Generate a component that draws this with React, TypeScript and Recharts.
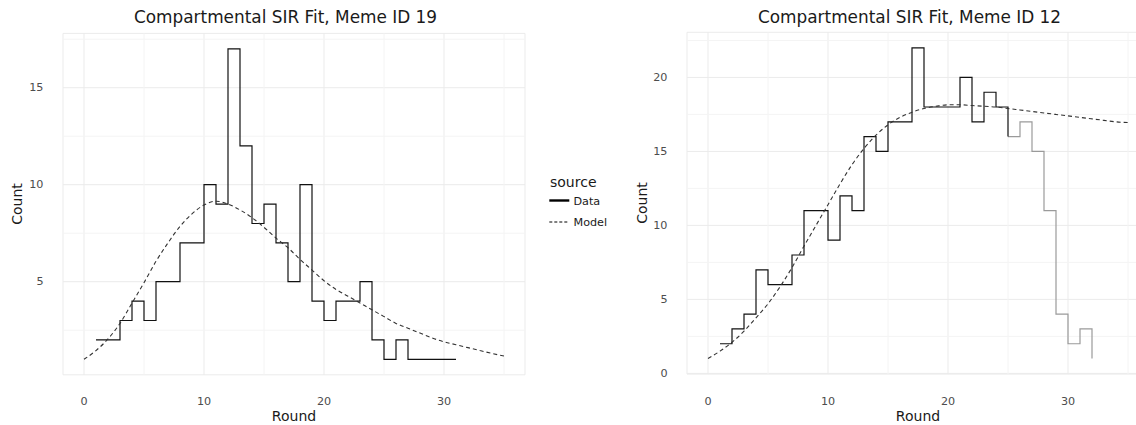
import React from "react";
import { LineChart, Line, XAxis, YAxis, CartesianGrid, ReferenceLine } from "recharts";

// ---------- data: Meme ID 19 ----------
const leftRounds = [1, 2, 3, 4, 5, 6, 7, 8, 9, 10, 11, 12, 13, 14, 15, 16, 17, 18, 19, 20, 21, 22, 23, 24, 25, 26, 27, 28, 29, 30, 31];
const leftCounts = [2, 2, 3, 4, 3, 5, 5, 7, 7, 10, 9, 17, 12, 8, 9, 7, 5, 10, 4, 3, 4, 4, 5, 2, 1, 2, 1, 1, 1, 1, 1];
const modelRounds = [0, 1, 2, 3, 4, 5, 6, 7, 8, 9, 10, 11, 12, 13, 14, 15, 16, 17, 18, 19, 20, 21, 22, 23, 24, 25, 26, 27, 28, 29, 30, 31, 32, 33, 34, 35];
const leftModel = [1.0, 1.45, 2.05, 2.85, 3.9, 4.95, 6.05, 7.0, 7.85, 8.5, 8.95, 9.15, 9.0, 8.7, 8.3, 7.8, 7.25, 6.75, 6.15, 5.6, 5.05, 4.6, 4.25, 3.9, 3.55, 3.2, 2.85, 2.6, 2.35, 2.1, 1.9, 1.75, 1.6, 1.45, 1.3, 1.17];

// ---------- data: Meme ID 12 ----------
const rightRoundsFit = [1, 2, 3, 4, 5, 6, 7, 8, 9, 10, 11, 12, 13, 14, 15, 16, 17, 18, 19, 20, 21, 22, 23, 24, 25];
const rightCountsFit = [2, 3, 4, 7, 6, 6, 8, 11, 11, 9, 12, 11, 16, 15, 17, 17, 22, 18, 18, 18, 20, 17, 19, 18, 16];
const rightRoundsRest = [25, 26, 27, 28, 29, 30, 31, 32];
const rightCountsRest = [16, 17, 15, 11, 4, 2, 3, 1];
const rightModel = [1.0, 1.5, 2.1, 2.85, 3.75, 4.7, 5.85, 7.15, 8.6, 10.0, 11.4, 12.8, 14.1, 15.2, 16.1, 16.8, 17.3, 17.65, 17.9, 18.05, 18.15, 18.15, 18.1, 18.05, 18.0, 17.9, 17.8, 17.7, 17.6, 17.5, 17.4, 17.3, 17.2, 17.1, 17.0, 16.95];

// ---------- ticks ----------
const xTicks = [0, 10, 20, 30];
const xMinor = [5, 15, 25, 35];
const leftYTicks = [5, 10, 15];
const leftYMinor = [2.5, 7.5, 12.5, 17.5];
const rightYTicks = [0, 5, 10, 15, 20];
const rightYMinor = [2.5, 7.5, 12.5, 17.5, 22.5];

const toPts = (xs: number[], ys: number[]) => xs.map((x, i) => ({ x, y: ys[i] }));

const FONT = "'DejaVu Sans', sans-serif";

const XTick = (props: any) => (
  <text x={props.x} y={404.5} textAnchor="middle" fontSize={11.2} fill="#4d4d4d" fontFamily={FONT}>
    {props.payload.value}
  </text>
);
const YTick = (props: any) => (
  <text x={43.5} y={props.y} textAnchor="end" dominantBaseline="central" fontSize={11.2} fill="#4d4d4d" fontFamily={FONT}>
    {props.payload.value}
  </text>
);

type PanelProps = {
  left: number;
  top: number;
  xAxisH: number;
  yDomain: [number, number];
  yTicks: number[];
  yMinor: number[];
  series: { pts: { x: number; y: number }[]; color: string; dash?: string; type: any; width: number }[];
};

function Panel({ left, top, xAxisH, yDomain, yTicks, yMinor, series }: PanelProps) {
  return (
    <div style={{ position: "absolute", left, top: 0 }}>
      <LineChart width={560} height={425} margin={{ top, right: 35, bottom: 0, left: 0 }}>
        <CartesianGrid stroke="#ebebeb" strokeWidth={1} />
        {xMinor.map((v) => (
          <ReferenceLine key={"xm" + v} x={v} stroke="#f4f4f4" strokeWidth={1} />
        ))}
        {yMinor.map((v) => (
          <ReferenceLine key={"ym" + v} y={v} stroke="#f4f4f4" strokeWidth={1} />
        ))}
        <XAxis
          dataKey="x"
          type="number"
          domain={[-1.75, 36.75]}
          ticks={xTicks}
          axisLine={false}
          tickLine={false}
          height={xAxisH}
          tick={<XTick />}
          allowDataOverflow
        />
        <YAxis
          type="number"
          domain={yDomain}
          ticks={yTicks}
          axisLine={false}
          tickLine={false}
          width={63}
          tick={<YTick />}
          allowDataOverflow
        />
        {series.map((s, i) => (
          <Line
            key={i}
            data={s.pts}
            dataKey="y"
            type={s.type}
            stroke={s.color}
            strokeWidth={s.width}
            strokeDasharray={s.dash}
            dot={false}
            activeDot={false}
            isAnimationActive={false}
          />
        ))}
      </LineChart>
    </div>
  );
}

export default function App() {
  return (
    <div style={{ position: "absolute", left: 0, top: 0, width: 1136, height: 425, overflow: "hidden", background: "#fff" }}>
      <Panel
        left={0}
        top={33.4}
        xAxisH={50.2}
        yDomain={[0.2, 17.8]}
        yTicks={leftYTicks}
        yMinor={leftYMinor}
        series={[
          { pts: toPts(leftRounds, leftCounts), color: "#111", type: "stepAfter", width: 1.2 },
          { pts: toPts(modelRounds, leftModel), color: "#333", type: "monotone", width: 1.1, dash: "4 3" },
        ]}
      />
      <Panel
        left={624}
        top={32.3}
        xAxisH={50.9}
        yDomain={[-0.05, 23.05]}
        yTicks={rightYTicks}
        yMinor={rightYMinor}
        series={[
          { pts: toPts(rightRoundsRest, rightCountsRest), color: "#9a9a9a", type: "stepAfter", width: 1.2 },
          { pts: toPts(rightRoundsFit, rightCountsFit), color: "#111", type: "stepAfter", width: 1.2 },
          { pts: toPts(modelRounds, rightModel), color: "#333", type: "monotone", width: 1.1, dash: "4 3" },
        ]}
      />
      <svg width={1136} height={425} style={{ position: "absolute", left: 0, top: 0, pointerEvents: "none" }} fontFamily={FONT}>
        <text x={285.5} y={22.7} textAnchor="middle" fontSize={16.9} fill="#1a1a1a">Compartmental SIR Fit, Meme ID 19</text>
        <text x={909.5} y={22.7} textAnchor="middle" fontSize={16.9} fill="#1a1a1a">Compartmental SIR Fit, Meme ID 12</text>
        <text x={294} y={421} textAnchor="middle" fontSize={14} fill="#1a1a1a">Round</text>
        <text x={918} y={421} textAnchor="middle" fontSize={14} fill="#1a1a1a">Round</text>
        <text transform="translate(21.7,204) rotate(-90)" textAnchor="middle" fontSize={14} fill="#1a1a1a">Count</text>
        <text transform="translate(646.7,203) rotate(-90)" textAnchor="middle" fontSize={14} fill="#1a1a1a">Count</text>
        <text x={550} y={186.5} fontSize={14} fill="#1a1a1a">source</text>
        <line x1={549.3} x2={569.3} y1={200.5} y2={200.5} stroke="#000" strokeWidth={2.4} />
        <text x={573.5} y={205} fontSize={11.2} fill="#1a1a1a">Data</text>
        <line x1={549.3} x2={569.3} y1={222} y2={222} stroke="#000" strokeWidth={1} strokeDasharray="3 2" />
        <text x={573.5} y={225.7} fontSize={11.2} fill="#1a1a1a">Model</text>
      </svg>
    </div>
  );
}
